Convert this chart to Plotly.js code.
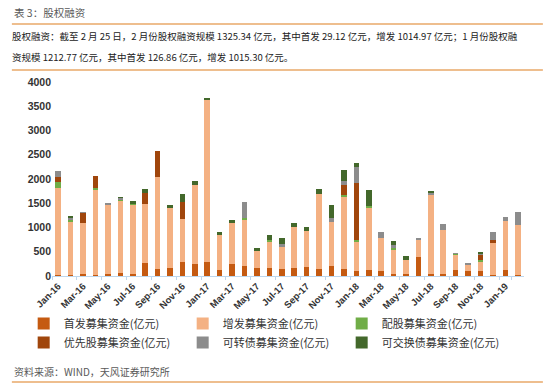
<!DOCTYPE html>
<html><head><meta charset="utf-8">
<script src="https://cdn.plot.ly/plotly-3.0.1.min.js"></script>
<style>html,body{margin:0;padding:0;background:#fff;}#c{width:550px;height:385px;}</style>
</head><body><div id="c"></div>
<script>
const months = ["Jan-16","Feb-16","Mar-16","Apr-16","May-16","Jun-16","Jul-16","Aug-16","Sep-16","Oct-16","Nov-16","Dec-16",
"Jan-17","Feb-17","Mar-17","Apr-17","May-17","Jun-17","Jul-17","Aug-17","Sep-17","Oct-17","Nov-17","Dec-17",
"Jan-18","Feb-18","Mar-18","Apr-18","May-18","Jun-18","Jul-18","Aug-18","Sep-18","Oct-18","Nov-18","Dec-18",
"Jan-19","Feb-19"];
const tickLabels = ["Jan-16","Mar-16","May-16","Jul-16","Sep-16","Nov-16","Jan-17","Mar-17","May-17","Jul-17","Sep-17","Nov-17","Jan-18","Mar-18","May-18","Jul-18","Sep-18","Nov-18","Jan-19"];
const ipo = [20,30,50,25,50,55,40,268,150,160,290,254, 290,130,254,206,165,165,137,165,178,150,212,150, 95,124,95,47,47,384,41,41,115,95,95,25, 126.86,29.12];
const seo = [1795,1080,1040,1740,1420,1500,1430,1220,1900,1240,890,1630, 3330,720,830,940,343,538,454,844,742,1550,894,1472, 600,1280,690,490,290,362,1634,907,320,138,196,657, 1015.30,1014.97];
const rights = [123,40,0,50,0,20,15,0,0,0,0,0, 0,0,0,50,0,45,0,0,0,0,0,40, 40,45,0,40,0,0,0,0,20,0,45,0, 0,0];
const preferred = [95,0,200,240,0,0,0,220,530,0,345,0, 0,0,0,0,0,0,0,0,0,0,0,220, 1184,0,0,0,0,0,0,0,0,0,90,60, 0,0];
const convertible = [125,40,40,0,35,25,0,0,0,0,0,0, 0,0,0,320,0,0,75,0,0,0,90,80, 320,0,123,70,0,30,30,116,20,27,30,171, 70.61,281.25];
const exchangeable = [0,50,0,0,0,30,70,85,0,70,170,80, 60,55,75,0,75,90,110,90,90,100,274,233, 90,330,0,70,83,0,40,0,0,0,40,0, 0,0];
const seriesNames = ["首发募集资金(亿元)","增发募集资金(亿元)","配股募集资金(亿元)","优先股募集资金(亿元)","可转债募集资金(亿元)","可交换债募集资金(亿元)"];
const seriesColors = ["#C55A11","#F4B183","#70AD47","#A0460C","#8C8C8C","#43682B"];
const seriesData = [ipo, seo, rights, preferred, convertible, exchangeable];

const traces = seriesData.map((d,i)=>({
  type:'bar', x: months, y: d, name: seriesNames[i],
  marker:{color: seriesColors[i], line:{width:0}}, hoverinfo:'skip'
}));

const cjk = '"Noto Sans CJK SC", sans-serif';
const tan = '#E9A869';
const layout = {
  width:550, height:385, barmode:'stack', bargap:0.55,
  margin:{l:52, r:26, t:82, b:109},
  paper_bgcolor:'#fff', plot_bgcolor:'#fff', showlegend:true,
  font:{family:cjk, color:'#333'},
  xaxis:{type:'category', tickmode:'array', tickvals: tickLabels, ticktext: tickLabels,
    tickangle:-45, tickfont:{family:'Liberation Sans, Arial', size:9.5, color:'#333', weight:'bold'},
    showline:true, linecolor:'#BDD7EE', linewidth:1, ticks:'outside', ticklen:3, tickcolor:'#BDD7EE', tickson:'boundaries',
    showgrid:false, zeroline:false, fixedrange:true},
  yaxis:{range:[0,4000], tickvals:[0,500,1000,1500,2000,2500,3000,3500,4000],
    tickfont:{family:'Liberation Sans, Arial', size:10.5, color:'#333', weight:'bold'},
    showgrid:false, zeroline:false, showline:false, ticks:'', fixedrange:true},
  legend:{orientation:'h', x:-0.06, xanchor:'left', y:-0.17, yanchor:'top',
    entrywidth:114, entrywidthmode:'pixels', traceorder:'normal', tracegroupgap:0,
    font:{family:cjk, size:11, color:'#333'}, itemwidth:30},
  shapes:[
    {type:'line', xref:'paper', yref:'paper', x0:-0.085, x1:1.04, y0:1+(82-24)/194, y1:1+(82-24)/194, line:{color:tan, width:1.5}},
    {type:'line', xref:'paper', yref:'paper', x0:-0.085, x1:1.04, y0:1+(82-70)/194, y1:1+(82-70)/194, line:{color:tan, width:1.5}},
    {type:'line', xref:'paper', yref:'paper', x0:-0.085, x1:1.04, y0:-(382-276)/194, y1:-(382-276)/194, line:{color:tan, width:1.5}}
  ],
  annotations:[
    {text:'表 3：股权融资', xref:'paper', yref:'paper', x:-0.085, y:1+(82-13)/194, xanchor:'left', yanchor:'middle', showarrow:false, font:{family:cjk, size:10.5, color:'#595959'}},
    {text:'股权融资：截至 2 月 25 日，2 月份股权融资规模 1325.34 亿元，其中首发 29.12 亿元，增发 1014.97 亿元；1 月份股权融', xref:'paper', yref:'paper', x:-0.088, y:1+(82-36)/194, xanchor:'left', yanchor:'middle', showarrow:false, font:{family:cjk, size:9.5, color:'#222'}},
    {text:'资规模 1212.77 亿元，其中首发 126.86 亿元，增发 1015.30 亿元。', xref:'paper', yref:'paper', x:-0.088, y:1+(82-57)/194, xanchor:'left', yanchor:'middle', showarrow:false, font:{family:cjk, size:9.5, color:'#222'}},
    {text:'资料来源：WIND，天风证券研究所', xref:'paper', yref:'paper', x:-0.085, y:-(371-276)/194, xanchor:'left', yanchor:'middle', showarrow:false, font:{family:cjk, size:10, color:'#595959'}}
  ]
};
Plotly.newPlot('c', traces, layout, {displayModeBar:false, staticPlot:true});
</script></body></html>
